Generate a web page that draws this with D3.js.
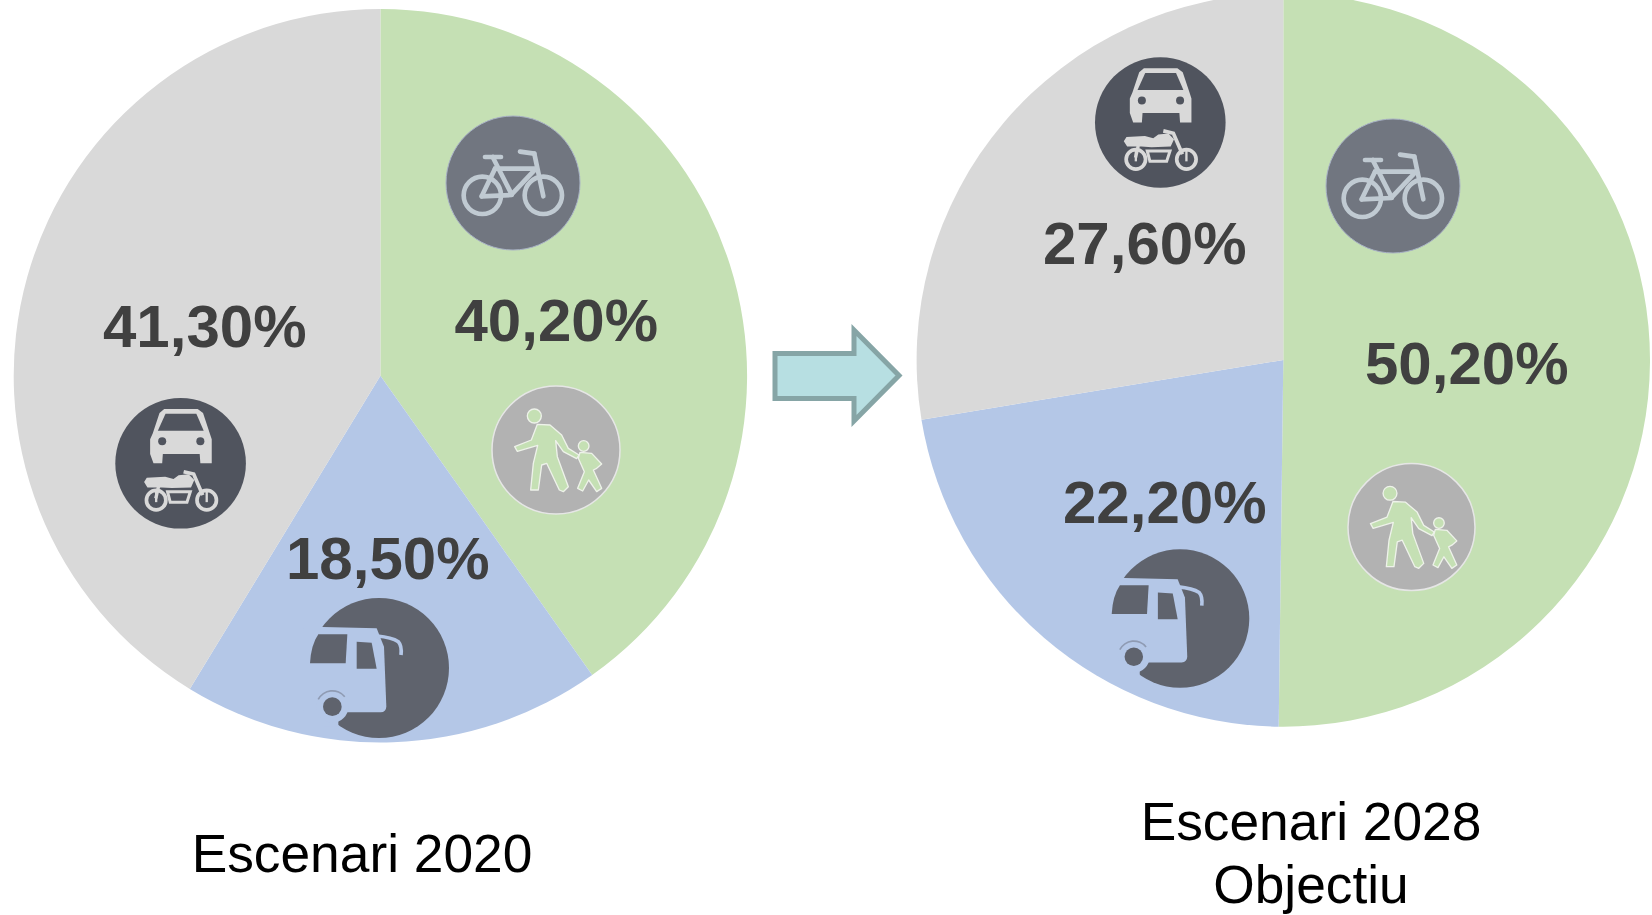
<!DOCTYPE html>
<html><head><meta charset="utf-8">
<script src="https://cdn.jsdelivr.net/npm/d3@7/dist/d3.min.js"></script>
<style>html,body{margin:0;padding:0;background:#fff;overflow:hidden}svg{display:block}</style>
</head><body><svg id="c" width="1652" height="915"></svg>
<script>
// ---- data ----
const modes = ["Bicicleta i a peu", "Transport públic", "Cotxe i moto"];
const values2020 = [40.2, 18.5, 41.3];
const values2028 = [50.2, 22.2, 27.6];
const title2020 = ["Escenari 2020"];
const title2028 = ["Escenari 2028", "Objectiu"];

// ---- layout & style ----
const colors = d3.scaleOrdinal(modes, ["#c5e0b4", "#b4c7e7", "#d9d9d9"]);
const R = 366.7;
const panels = [
  { values: values2020, cx: 380.4, cy: 375.7, titles: title2020, titleX: 362, titleY: [872],
    labels: [[454.5, 340.5], [286, 579], [103, 346.5]],
    icons: { bike: [513, 183, 67], ped: [556, 450, 64], bus: [379, 668, 70], car: [180.6, 463.3, 65.3] } },
  { values: values2028, cx: 1283.3, cy: 360, titles: title2028, titleX: 1311, titleY: [840, 903],
    labels: [[1365, 384], [1063, 522.5], [1043, 263.5]],
    icons: { bike: [1393, 186, 67], ped: [1411.5, 527, 63.5], bus: [1180, 618.5, 69.3], car: [1160.3, 122.5, 65.3] } }
];
const svg = d3.select("#c");
const pie = d3.pie().sort(null).value(d => d.v);
const arc = d3.arc().innerRadius(0).outerRadius(R);
const fmt = v => v.toFixed(2).replace(".", ",") + "%";
const line = d3.line();

// Icon glyphs are drawn in the pixel grid of a 3x enlargement, with the circle centred at (zx, zy)
function iconGroup(spec, zx, zy, refR, fill, stroke, strokeW) {
  const [x, y, r] = spec;
  const k = r / refR;
  svg.append("circle").attr("cx", x).attr("cy", y).attr("r", r)
    .attr("fill", fill).attr("stroke", stroke || "none").attr("stroke-width", strokeW || 0);
  return svg.append("g").attr("transform", `translate(${x},${y}) scale(${k / 3}) translate(${-zx},${-zy})`);
}
const poly = (g, pts, fill, extra) => {
  const p = g.append("path").attr("d", line(pts) + "Z").attr("fill", fill);
  if (extra) Object.entries(extra).forEach(([a, b]) => p.attr(a, b));
  return p;
};

function drawBike(spec) {
  const col = "#c0cad2";
  const g = iconGroup(spec, 339, 278, 67, "#717680", "#a9b2c6", 1);
  g.selectAll("circle").data([[247, 315], [430, 315]]).join("circle")
    .attr("cx", d => d[0]).attr("cy", d => d[1]).attr("r", 56)
    .attr("fill", "none").attr("stroke", col).attr("stroke-width", 14);
  const segs = [
    [[278, 200], [335, 312]], [[285, 235], [405, 235]], [[405, 238], [335, 312]],
    [[335, 314], [245, 318]], [[285, 235], [245, 318]], [[403, 190], [430, 318]],
    [[360, 184], [403, 190]], [[255, 200], [303, 200]]
  ];
  g.selectAll("path").data(segs).join("path").attr("d", d => line(d)).attr("fill", "none")
    .attr("stroke", col).attr("stroke-width", 14).attr("stroke-linecap", "round");
}
function drawPed(spec) {
  const g = iconGroup(spec, 468, 1080, 64, "#b2b2b2", "#e6e6e6", 1.5);
  const f = "#c5e0b4", st = { stroke: "#eef2ea", "stroke-width": 4, "stroke-linejoin": "round" };
  g.append("circle").attr("cx", 403).attr("cy", 978).attr("r", 21).attr("fill", f).attr("stroke", "#eef2ea").attr("stroke-width", 4);
  g.append("circle").attr("cx", 551).attr("cy", 1068).attr("r", 16).attr("fill", f).attr("stroke", "#eef2ea").attr("stroke-width", 4);
  poly(g, [[412,1003],[450,1005],[485,1035],[505,1075],[537,1095],[530,1106],[490,1085],[467,1052],[472,1100],[505,1190],[490,1205],[478,1200],[440,1120],[425,1125],[415,1200],[392,1200],[400,1120],[413,1066],[352,1084],[344,1070],[394,1050]], f, st);
  poly(g, [[540,1087],[575,1090],[605,1122],[590,1135],[580,1140],[605,1195],[590,1205],[566,1170],[548,1203],[533,1195],[553,1145],[535,1105]], f, st);
}
function drawCar(spec) {
  const col = "#d9d9d9", dark = "#50545e";
  const g = iconGroup(spec, 271, 250, 65, dark);
  poly(g, [[222,88],[322,88],[338,100],[358,160],[364,178],[364,250],[330,250],[328,222],[218,222],[216,250],[190,250],[180,222],[180,178],[188,160],[208,100]], col);
  poly(g, [[226,102],[318,102],[340,153],[203,153]], dark);
  g.append("circle").attr("cx", 216).attr("cy", 184).attr("r", 12).attr("fill", dark);
  g.append("circle").attr("cx", 330).attr("cy", 184).attr("r", 12).attr("fill", dark);
  [[198, 360], [349, 360]].forEach(c => {
    g.append("circle").attr("cx", c[0]).attr("cy", c[1]).attr("r", 29).attr("fill", "none").attr("stroke", col).attr("stroke-width", 11);
    g.append("path").attr("d", line([[c[0], c[1] - 25], [c[0], c[1] + 6]])).attr("stroke", col).attr("stroke-width", 7);
  });
  poly(g, [[232,335],[300,335],[290,366],[240,366]], dark, { stroke: col, "stroke-width": 9 });
  poly(g, [[170,293],[225,290],[250,297],[265,286],[295,283],[312,300],[302,322],[245,324],[215,322],[172,322],[162,306]], col);
  g.append("path").attr("d", line([[280,275],[310,282],[337,345]])).attr("fill", "none").attr("stroke", col).attr("stroke-width", 11);
  g.append("path").attr("d", line([[205,320],[197,355]])).attr("fill", "none").attr("stroke", col).attr("stroke-width", 10);
}
function drawBus(spec, bg) {
  const dark = "#5f636d";
  const g = iconGroup(spec, 867, 864, 70, dark);
  // bus body is cut out of the circle in the background colour
  g.append("path").attr("d", "M700,741 L860,745 L882,800 L889,980 Q888,996 872,997 L700,997 L640,997 L640,741Z").attr("fill", bg);
  poly(g, [[700,997],[745,997],[745,1040],[700,1040]], bg);
  g.append("circle").attr("cx", 727).attr("cy", 980).attr("r", 48).attr("fill", bg);
  g.append("path").attr("d", d3.arc()({ innerRadius: 45, outerRadius: 50, startAngle: -1.1, endAngle: 0.9 }))
    .attr("transform", "translate(727,980)").attr("fill", "#8f9bb3");
  g.append("circle").attr("cx", 727).attr("cy", 980).attr("r", 28).attr("fill", dark);
  g.append("path").attr("d", "M685,763 L772,763 L767,850 L660,850 Q663,795 685,763Z").attr("fill", dark);
  poly(g, [[800,785],[845,788],[860,866],[800,866]], dark);
  g.append("path").attr("d", "M862,768 Q905,772 925,785 Q936,797 933,825").attr("fill", "none").attr("stroke", bg).attr("stroke-width", 11);
}

panels.forEach(p => {
  const rows = modes.map((m, i) => ({ m, v: p.values[i] }));
  svg.append("g").attr("transform", `translate(${p.cx},${p.cy})`)
    .selectAll("path").data(pie(rows)).join("path")
    .attr("d", arc).attr("fill", d => colors(d.data.m));
  drawBike(p.icons.bike);
  drawPed(p.icons.ped);
  drawBus(p.icons.bus, colors(modes[1]));
  drawCar(p.icons.car);
  svg.append("g").selectAll("text").data(rows).join("text")
    .attr("x", (d, i) => p.labels[i][0]).attr("y", (d, i) => p.labels[i][1])
    .attr("font-family", "'Liberation Sans', Arial, sans-serif").attr("font-weight", 700)
    .attr("font-size", 60).attr("fill", "#404040").text(d => fmt(d.v));
  svg.append("g").selectAll("text").data(p.titles).join("text")
    .attr("x", p.titleX).attr("y", (d, i) => p.titleY[i]).attr("text-anchor", "middle")
    .attr("font-family", "'Liberation Sans', Arial, sans-serif").attr("font-size", 53.3)
    .attr("fill", "#000").text(d => d);
});

// transition arrow
svg.append("path")
  .attr("d", line([[775,353.5],[854,353.5],[854,330],[899,375.6],[854,421],[854,398.5],[775,398.5]]) + "Z")
  .attr("fill", "#b7dfe2").attr("stroke", "#86a5a6").attr("stroke-width", 5).attr("stroke-linejoin", "miter");
</script></body></html>
